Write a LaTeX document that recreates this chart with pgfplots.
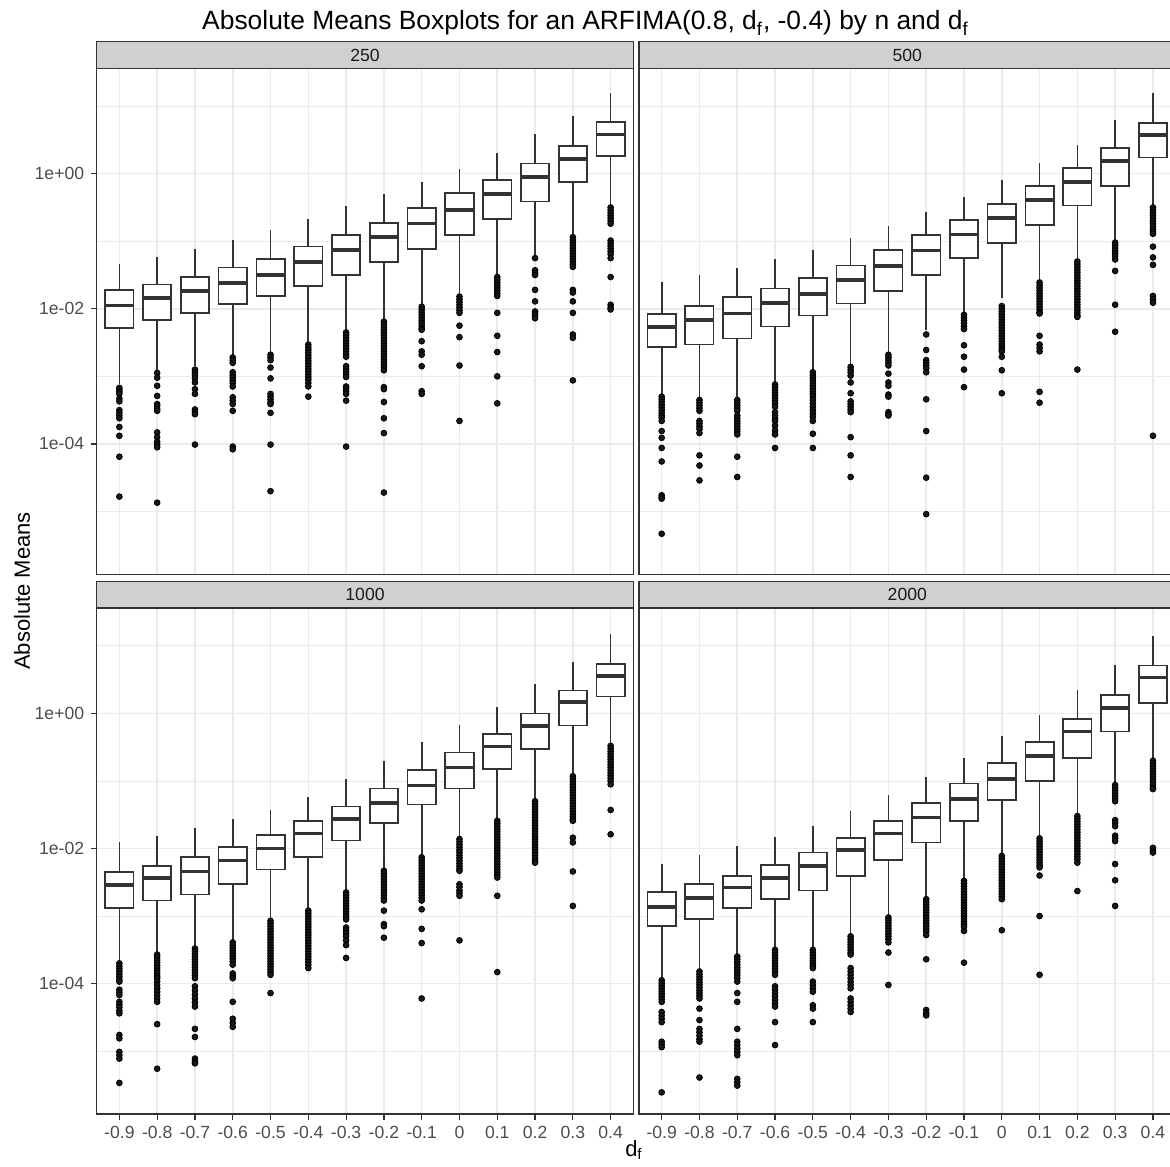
\documentclass[border=0pt]{standalone}
\usepackage{pgfplots}
\pgfplotsset{compat=1.18}
\usepackage{fontspec}
\setmainfont{Liberation Sans}
\definecolor{grey10}{HTML}{1A1A1A}
\definecolor{grey20}{HTML}{333333}
\definecolor{grey30}{HTML}{4D4D4D}
\definecolor{grey92}{HTML}{EBEBEB}
\definecolor{stripfill}{HTML}{D0D0D0}

% box: position, lower whisker, Q1, median, Q3, upper whisker (log10 of absolute mean)
\newcommand{\bx}[6]{%
  \pgfmathsetmacro{\xl}{#1-0.375}\pgfmathsetmacro{\xr}{#1+0.375}%
  \addplot[draw=grey20, line width=0.85pt] coordinates {(#1,#2) (#1,#3)};
  \addplot[draw=grey20, line width=0.85pt] coordinates {(#1,#5) (#1,#6)};
  \addplot[draw=grey20, line width=0.85pt, fill=white] coordinates {(\xl,#3) (\xr,#3) (\xr,#5) (\xl,#5)} -- cycle;
  \addplot[draw=grey20, line width=1.8pt] coordinates {(\xl,#4) (\xr,#4)};
}

\pgfplotsset{
 facet/.style={
  scale only axis, width=268.3pt, height=253pt,
  xmin=0.4, xmax=14.6, ymin=-5.93, ymax=1.56,
  xtick={1,...,14}, ytick={-4,-2,0}, minor ytick={-5,-3,-1,1},
  xticklabels={-0.9,-0.8,-0.7,-0.6,-0.5,-0.4,-0.3,-0.2,-0.1,0,0.1,0.2,0.3,0.4},
  yticklabels={1e-04,1e-02,1e+00},
  grid=both,
  major grid style={draw=grey92, line width=0.8pt},
  minor grid style={draw=grey92, line width=0.4pt},
  axis line style={draw=grey20, line width=0.6pt},
  tick style={draw=grey20, line width=0.6pt},
  tick align=outside, major tick length=2.75pt, minor tick length=0pt,
  tick pos=left,
  ticklabel style={font=\fontsize{8.8}{10}\selectfont, text=grey30},
 },
 om/.style={only marks, mark=*, mark size=1.45pt, mark options={draw=none, fill=black!90}},
}

\begin{document}
\begin{tikzpicture}
\fill[white] (0,0) rectangle (585pt,583pt);
\useasboundingbox (0,0) rectangle (585pt,583pt);

% ---------------- n = 250 ----------------
\begin{axis}[facet, name=tl, at={(48.35pt,295.85pt)}, anchor=south west, xmajorticks=false]
\addplot[om] coordinates {
(1,-3.17)(1,-3.20)(1,-3.23)(1,-3.26)(1,-3.33)(1,-3.37)(1,-3.50)(1,-3.54)(1,-3.58)(1,-3.62)(1,-3.75)(1,-3.88)(1,-4.19)(1,-4.78)
(2,-2.95)(2,-3.02)(2,-3.14)(2,-3.29)(2,-3.41)(2,-3.44)(2,-3.48)(2,-3.51)(2,-3.83)(2,-3.90)(2,-3.97)(2,-4.01)(2,-4.05)(2,-4.87)
(3,-2.90)(3,-2.94)(3,-2.98)(3,-3.03)(3,-3.09)(3,-3.19)(3,-3.26)(3,-3.49)(3,-3.53)(3,-3.56)(3,-4.01)
(4,-2.72)(4,-2.76)(4,-2.80)(4,-2.94)(4,-2.98)(4,-3.02)(4,-3.06)(4,-3.10)(4,-3.15)(4,-3.31)(4,-3.36)(4,-3.41)(4,-3.51)(4,-4.04)(4,-4.08)
(5,-2.68)(5,-2.72)(5,-2.76)(5,-2.87)(5,-3.03)(5,-3.26)(5,-3.30)(5,-3.34)(5,-3.38)(5,-3.41)(5,-3.54)(5,-4.01)(5,-4.70)
(6,-2.53)(6,-2.57)(6,-2.61)(6,-2.65)(6,-2.69)(6,-2.73)(6,-2.77)(6,-2.81)(6,-2.85)(6,-2.89)(6,-2.93)(6,-2.97)(6,-3.01)(6,-3.05)(6,-3.10)(6,-3.15)(6,-3.30)
(7,-2.35)(7,-2.39)(7,-2.43)(7,-2.47)(7,-2.51)(7,-2.55)(7,-2.59)(7,-2.63)(7,-2.67)(7,-2.71)(7,-2.85)(7,-2.89)(7,-2.93)(7,-2.97)(7,-3.01)(7,-3.15)(7,-3.18)(7,-3.22)(7,-3.26)(7,-3.36)(7,-4.04)
(8,-2.19)(8,-2.23)(8,-2.27)(8,-2.31)(8,-2.35)(8,-2.39)(8,-2.43)(8,-2.47)(8,-2.51)(8,-2.55)(8,-2.59)(8,-2.63)(8,-2.67)(8,-2.71)(8,-2.75)(8,-2.79)(8,-2.83)(8,-2.87)(8,-2.91)(8,-3.16)(8,-3.19)(8,-3.38)(8,-3.62)(8,-3.84)(8,-4.72)
(9,-1.97)(9,-2.01)(9,-2.05)(9,-2.09)(9,-2.13)(9,-2.17)(9,-2.21)(9,-2.25)(9,-2.29)(9,-2.31)(9,-2.48)(9,-2.63)(9,-2.68)(9,-2.85)(9,-3.22)(9,-3.26)
(10,-1.82)(10,-1.86)(10,-1.90)(10,-1.94)(10,-1.98)(10,-2.02)(10,-2.06)(10,-2.25)(10,-2.42)(10,-2.84)(10,-3.66)
(11,-1.53)(11,-1.57)(11,-1.61)(11,-1.65)(11,-1.69)(11,-1.73)(11,-1.77)(11,-1.81)(11,-2.06)(11,-2.40)(11,-2.64)(11,-3.00)(11,-3.40)
(12,-1.25)(12,-1.43)(12,-1.47)(12,-1.50)(12,-1.72)(12,-1.89)(12,-2.04)(12,-2.07)(12,-2.10)(12,-2.14)
(13,-0.94)(13,-0.98)(13,-1.02)(13,-1.06)(13,-1.10)(13,-1.14)(13,-1.18)(13,-1.22)(13,-1.26)(13,-1.30)(13,-1.34)(13,-1.38)(13,-1.72)(13,-1.76)(13,-1.89)(13,-2.06)(13,-2.38)(13,-2.43)(13,-3.06)
(14,-0.50)(14,-0.54)(14,-0.58)(14,-0.62)(14,-0.66)(14,-0.70)(14,-0.74)(14,-0.99)(14,-1.03)(14,-1.07)(14,-1.11)(14,-1.15)(14,-1.19)(14,-1.25)(14,-1.53)(14,-1.94)(14,-1.98)(14,-2.01)
};
\bx{1}{-3.12}{-2.28}{-1.95}{-1.725}{-1.33}
\bx{2}{-2.90}{-2.17}{-1.84}{-1.64}{-1.23}
\bx{3}{-2.85}{-2.06}{-1.735}{-1.525}{-1.12}
\bx{4}{-2.70}{-1.93}{-1.62}{-1.39}{-0.985}
\bx{5}{-2.65}{-1.81}{-1.50}{-1.26}{-0.84}
\bx{6}{-2.50}{-1.66}{-1.31}{-1.08}{-0.67}
\bx{7}{-2.33}{-1.50}{-1.13}{-0.91}{-0.485}
\bx{8}{-2.16}{-1.31}{-0.94}{-0.725}{-0.30}
\bx{9}{-1.94}{-1.11}{-0.74}{-0.51}{-0.13}
\bx{10}{-1.79}{-0.91}{-0.54}{-0.29}{0.07}
\bx{11}{-1.50}{-0.67}{-0.30}{-0.09}{0.31}
\bx{12}{-1.23}{-0.41}{-0.05}{0.15}{0.58}
\bx{13}{-0.91}{-0.12}{0.22}{0.41}{0.86}
\bx{14}{-0.47}{0.26}{0.58}{0.77}{1.20}
\end{axis}

% ---------------- n = 500 ----------------
\begin{axis}[facet, name=tr, at={(319.5pt,295.85pt)}, anchor=south west, xmajorticks=false, ymajorticks=false]
\addplot[om] coordinates {
(1,-3.30)(1,-3.34)(1,-3.38)(1,-3.42)(1,-3.46)(1,-3.50)(1,-3.54)(1,-3.58)(1,-3.61)(1,-3.66)(1,-3.81)(1,-3.91)(1,-4.06)(1,-4.26)(1,-4.76)(1,-4.79)(1,-4.81)(1,-5.33)
(2,-3.35)(2,-3.39)(2,-3.43)(2,-3.47)(2,-3.51)(2,-3.66)(2,-3.70)(2,-3.74)(2,-3.78)(2,-3.84)(2,-4.17)(2,-4.32)(2,-4.54)
(3,-3.35)(3,-3.39)(3,-3.43)(3,-3.47)(3,-3.51)(3,-3.58)(3,-3.62)(3,-3.66)(3,-3.70)(3,-3.74)(3,-3.78)(3,-3.82)(3,-3.86)(3,-4.19)(3,-4.49)
(4,-3.12)(4,-3.16)(4,-3.20)(4,-3.24)(4,-3.28)(4,-3.32)(4,-3.36)(4,-3.40)(4,-3.45)(4,-3.53)(4,-3.58)(4,-3.62)(4,-3.66)(4,-3.73)(4,-3.80)(4,-3.86)(4,-4.06)
(5,-2.94)(5,-2.98)(5,-3.02)(5,-3.06)(5,-3.10)(5,-3.14)(5,-3.18)(5,-3.22)(5,-3.26)(5,-3.30)(5,-3.35)(5,-3.40)(5,-3.45)(5,-3.50)(5,-3.55)(5,-3.60)(5,-3.66)(5,-3.85)(5,-4.06)
(6,-2.86)(6,-2.90)(6,-2.94)(6,-2.99)(6,-3.09)(6,-3.25)(6,-3.37)(6,-3.41)(6,-3.45)(6,-3.49)(6,-3.53)(6,-3.90)(6,-4.17)(6,-4.49)
(7,-2.68)(7,-2.72)(7,-2.76)(7,-2.80)(7,-2.84)(7,-2.96)(7,-3.09)(7,-3.14)(7,-3.27)(7,-3.30)(7,-3.53)(7,-3.56)(7,-3.58)
(8,-2.38)(8,-2.61)(8,-2.76)(8,-2.80)(8,-2.84)(8,-2.88)(8,-2.94)(8,-3.34)(8,-3.81)(8,-4.50)(8,-5.04)
(9,-2.09)(9,-2.13)(9,-2.17)(9,-2.21)(9,-2.26)(9,-2.30)(9,-2.54)(9,-2.71)(9,-2.90)(9,-3.16)
(10,-1.96)(10,-2.00)(10,-2.04)(10,-2.08)(10,-2.12)(10,-2.16)(10,-2.20)(10,-2.24)(10,-2.28)(10,-2.32)(10,-2.36)(10,-2.40)(10,-2.44)(10,-2.48)(10,-2.52)(10,-2.56)(10,-2.60)(10,-2.63)(10,-2.71)(10,-2.91)(10,-3.25)
(11,-1.61)(11,-1.65)(11,-1.69)(11,-1.73)(11,-1.77)(11,-1.81)(11,-1.85)(11,-1.89)(11,-1.93)(11,-1.97)(11,-2.01)(11,-2.05)(11,-2.07)(11,-2.40)(11,-2.53)(11,-2.58)(11,-2.63)(11,-3.23)(11,-3.39)
(12,-1.30)(12,-1.34)(12,-1.38)(12,-1.42)(12,-1.46)(12,-1.50)(12,-1.54)(12,-1.58)(12,-1.62)(12,-1.66)(12,-1.70)(12,-1.74)(12,-1.78)(12,-1.82)(12,-1.86)(12,-1.90)(12,-1.94)(12,-1.98)(12,-2.02)(12,-2.06)(12,-2.10)(12,-2.12)(12,-2.90)
(13,-1.02)(13,-1.06)(13,-1.10)(13,-1.14)(13,-1.18)(13,-1.22)(13,-1.27)(13,-1.44)(13,-1.94)(13,-2.34)
(14,-0.50)(14,-0.54)(14,-0.58)(14,-0.62)(14,-0.66)(14,-0.70)(14,-0.74)(14,-0.78)(14,-0.82)(14,-0.86)(14,-0.89)(14,-1.08)(14,-1.24)(14,-1.35)(14,-1.81)(14,-1.86)(14,-1.91)(14,-3.88)
};
\bx{1}{-3.27}{-2.57}{-2.27}{-2.08}{-1.605}
\bx{2}{-3.32}{-2.53}{-2.17}{-1.96}{-1.50}
\bx{3}{-3.32}{-2.44}{-2.07}{-1.83}{-1.40}
\bx{4}{-3.09}{-2.26}{-1.91}{-1.70}{-1.26}
\bx{5}{-2.91}{-2.10}{-1.78}{-1.54}{-1.13}
\bx{6}{-2.84}{-1.92}{-1.57}{-1.36}{-0.95}
\bx{7}{-2.66}{-1.74}{-1.37}{-1.13}{-0.77}
\bx{8}{-2.32}{-1.50}{-1.14}{-0.91}{-0.57}
\bx{9}{-2.07}{-1.25}{-0.90}{-0.69}{-0.35}
\bx{10}{-1.84}{-1.03}{-0.66}{-0.45}{-0.10}
\bx{11}{-1.58}{-0.76}{-0.39}{-0.18}{0.16}
\bx{12}{-1.27}{-0.47}{-0.12}{0.08}{0.43}
\bx{13}{-0.99}{-0.18}{0.19}{0.38}{0.79}
\bx{14}{-0.48}{0.24}{0.57}{0.75}{1.20}
\end{axis}

% ---------------- n = 1000 ----------------
\begin{axis}[facet, name=bl, at={(48.35pt,26pt)}, anchor=south west]
\addplot[om] coordinates {
(1,-3.70)(1,-3.74)(1,-3.78)(1,-3.82)(1,-3.86)(1,-3.90)(1,-3.94)(1,-3.97)(1,-4.09)(1,-4.13)(1,-4.17)(1,-4.27)(1,-4.31)(1,-4.35)(1,-4.40)(1,-4.44)(1,-4.76)(1,-4.81)(1,-5.01)(1,-5.06)(1,-5.11)(1,-5.47)
(2,-3.57)(2,-3.61)(2,-3.65)(2,-3.69)(2,-3.73)(2,-3.77)(2,-3.81)(2,-3.85)(2,-3.89)(2,-3.92)(2,-3.97)(2,-4.02)(2,-4.07)(2,-4.12)(2,-4.17)(2,-4.22)(2,-4.27)(2,-4.60)(2,-5.26)
(3,-3.48)(3,-3.52)(3,-3.56)(3,-3.60)(3,-3.64)(3,-3.68)(3,-3.72)(3,-3.76)(3,-3.80)(3,-3.84)(3,-3.88)(3,-3.92)(3,-4.04)(3,-4.10)(3,-4.16)(3,-4.22)(3,-4.28)(3,-4.34)(3,-4.67)(3,-4.79)(3,-5.11)(3,-5.15)(3,-5.18)
(4,-3.39)(4,-3.43)(4,-3.47)(4,-3.51)(4,-3.55)(4,-3.59)(4,-3.63)(4,-3.67)(4,-3.72)(4,-3.85)(4,-3.89)(4,-3.92)(4,-4.27)(4,-4.52)(4,-4.58)(4,-4.64)
(5,-3.07)(5,-3.11)(5,-3.15)(5,-3.19)(5,-3.23)(5,-3.27)(5,-3.31)(5,-3.35)(5,-3.39)(5,-3.43)(5,-3.47)(5,-3.51)(5,-3.55)(5,-3.59)(5,-3.63)(5,-3.67)(5,-3.71)(5,-3.75)(5,-3.79)(5,-3.83)(5,-3.87)(5,-4.14)
(6,-2.92)(6,-2.96)(6,-3.00)(6,-3.04)(6,-3.08)(6,-3.12)(6,-3.16)(6,-3.20)(6,-3.24)(6,-3.28)(6,-3.32)(6,-3.36)(6,-3.40)(6,-3.44)(6,-3.48)(6,-3.52)(6,-3.56)(6,-3.60)(6,-3.64)(6,-3.68)(6,-3.72)(6,-3.77)
(7,-2.65)(7,-2.69)(7,-2.73)(7,-2.77)(7,-2.81)(7,-2.85)(7,-2.89)(7,-2.93)(7,-2.97)(7,-3.01)(7,-3.05)(7,-3.17)(7,-3.21)(7,-3.25)(7,-3.30)(7,-3.36)(7,-3.43)(7,-3.62)
(8,-2.33)(8,-2.37)(8,-2.41)(8,-2.45)(8,-2.49)(8,-2.53)(8,-2.57)(8,-2.61)(8,-2.65)(8,-2.69)(8,-2.73)(8,-2.77)(8,-2.92)(8,-3.12)(8,-3.15)(8,-3.32)
(9,-2.13)(9,-2.17)(9,-2.21)(9,-2.25)(9,-2.29)(9,-2.33)(9,-2.37)(9,-2.41)(9,-2.45)(9,-2.49)(9,-2.53)(9,-2.57)(9,-2.61)(9,-2.65)(9,-2.69)(9,-2.73)(9,-2.77)(9,-2.90)(9,-3.19)(9,-3.40)(9,-4.22)
(10,-1.86)(10,-1.90)(10,-1.94)(10,-1.98)(10,-2.02)(10,-2.06)(10,-2.10)(10,-2.14)(10,-2.18)(10,-2.22)(10,-2.26)(10,-2.30)(10,-2.33)(10,-2.53)(10,-2.57)(10,-2.62)(10,-2.66)(10,-2.70)(10,-3.36)
(11,-1.59)(11,-1.63)(11,-1.67)(11,-1.71)(11,-1.75)(11,-1.79)(11,-1.83)(11,-1.87)(11,-1.91)(11,-1.95)(11,-1.99)(11,-2.03)(11,-2.07)(11,-2.11)(11,-2.15)(11,-2.19)(11,-2.23)(11,-2.27)(11,-2.31)(11,-2.35)(11,-2.39)(11,-2.43)(11,-2.70)(11,-3.83)
(12,-1.30)(12,-1.34)(12,-1.38)(12,-1.42)(12,-1.46)(12,-1.50)(12,-1.54)(12,-1.58)(12,-1.62)(12,-1.66)(12,-1.70)(12,-1.74)(12,-1.78)(12,-1.82)(12,-1.86)(12,-1.90)(12,-1.94)(12,-1.98)(12,-2.02)(12,-2.06)(12,-2.10)(12,-2.14)(12,-2.18)(12,-2.21)
(13,-0.93)(13,-0.97)(13,-1.01)(13,-1.05)(13,-1.09)(13,-1.13)(13,-1.17)(13,-1.21)(13,-1.25)(13,-1.29)(13,-1.33)(13,-1.37)(13,-1.41)(13,-1.45)(13,-1.49)(13,-1.53)(13,-1.57)(13,-1.59)(13,-1.84)(13,-1.91)(13,-2.34)(13,-2.85)
(14,-0.48)(14,-0.52)(14,-0.56)(14,-0.60)(14,-0.64)(14,-0.68)(14,-0.72)(14,-0.76)(14,-0.80)(14,-0.84)(14,-0.88)(14,-0.92)(14,-0.96)(14,-1.00)(14,-1.05)(14,-1.43)(14,-1.79)
};
\bx{1}{-3.68}{-2.88}{-2.54}{-2.35}{-1.90}
\bx{2}{-3.56}{-2.77}{-2.44}{-2.26}{-1.81}
\bx{3}{-3.46}{-2.68}{-2.34}{-2.13}{-1.70}
\bx{4}{-3.36}{-2.53}{-2.18}{-1.98}{-1.57}
\bx{5}{-3.04}{-2.31}{-2.00}{-1.80}{-1.43}
\bx{6}{-2.90}{-2.13}{-1.78}{-1.59}{-1.24}
\bx{7}{-2.63}{-1.88}{-1.56}{-1.38}{-0.97}
\bx{8}{-2.31}{-1.62}{-1.33}{-1.11}{-0.70}
\bx{9}{-2.12}{-1.35}{-1.07}{-0.84}{-0.43}
\bx{10}{-1.84}{-1.11}{-0.80}{-0.58}{-0.17}
\bx{11}{-1.57}{-0.82}{-0.49}{-0.31}{0.10}
\bx{12}{-1.27}{-0.53}{-0.19}{0.00}{0.43}
\bx{13}{-0.90}{-0.18}{0.17}{0.34}{0.76}
\bx{14}{-0.46}{0.25}{0.55}{0.73}{1.17}
\end{axis}

% ---------------- n = 2000 ----------------
\begin{axis}[facet, name=br, at={(319.5pt,26pt)}, anchor=south west, ymajorticks=false]
\addplot[om] coordinates {
(1,-3.95)(1,-3.99)(1,-4.03)(1,-4.07)(1,-4.11)(1,-4.15)(1,-4.19)(1,-4.23)(1,-4.27)(1,-4.42)(1,-4.47)(1,-4.52)(1,-4.57)(1,-4.86)(1,-4.90)(1,-4.94)(1,-5.61)
(2,-3.82)(2,-3.86)(2,-3.90)(2,-3.94)(2,-3.98)(2,-4.02)(2,-4.06)(2,-4.10)(2,-4.14)(2,-4.18)(2,-4.22)(2,-4.37)(2,-4.54)(2,-4.67)(2,-4.72)(2,-4.77)(2,-4.82)(2,-4.86)(2,-5.39)
(3,-3.60)(3,-3.64)(3,-3.68)(3,-3.72)(3,-3.76)(3,-3.80)(3,-3.84)(3,-3.88)(3,-3.92)(3,-3.97)(3,-4.14)(3,-4.27)(3,-4.67)(3,-4.86)(3,-4.91)(3,-4.96)(3,-5.01)(3,-5.06)(3,-5.41)(3,-5.46)(3,-5.51)
(4,-3.50)(4,-3.54)(4,-3.58)(4,-3.62)(4,-3.66)(4,-3.70)(4,-3.74)(4,-3.78)(4,-3.82)(4,-3.87)(4,-4.04)(4,-4.09)(4,-4.14)(4,-4.19)(4,-4.24)(4,-4.29)(4,-4.34)(4,-4.57)(4,-4.91)
(5,-3.50)(5,-3.54)(5,-3.58)(5,-3.62)(5,-3.66)(5,-3.70)(5,-3.74)(5,-3.77)(5,-3.97)(5,-4.02)(5,-4.07)(5,-4.12)(5,-4.32)(5,-4.37)(5,-4.57)
(6,-3.30)(6,-3.34)(6,-3.38)(6,-3.42)(6,-3.46)(6,-3.50)(6,-3.54)(6,-3.57)(6,-3.77)(6,-3.82)(6,-3.87)(6,-3.92)(6,-3.97)(6,-4.02)(6,-4.07)(6,-4.22)(6,-4.27)(6,-4.32)(6,-4.37)(6,-4.42)
(7,-3.02)(7,-3.06)(7,-3.10)(7,-3.14)(7,-3.18)(7,-3.22)(7,-3.26)(7,-3.30)(7,-3.34)(7,-3.39)(7,-3.54)(7,-4.02)
(8,-2.75)(8,-2.79)(8,-2.83)(8,-2.87)(8,-2.91)(8,-2.95)(8,-2.99)(8,-3.03)(8,-3.07)(8,-3.11)(8,-3.15)(8,-3.19)(8,-3.23)(8,-3.28)(8,-3.64)(8,-4.39)(8,-4.44)(8,-4.47)
(9,-2.48)(9,-2.52)(9,-2.56)(9,-2.60)(9,-2.64)(9,-2.68)(9,-2.72)(9,-2.76)(9,-2.80)(9,-2.84)(9,-2.88)(9,-2.92)(9,-2.96)(9,-3.00)(9,-3.04)(9,-3.08)(9,-3.12)(9,-3.16)(9,-3.22)(9,-3.69)
(10,-2.11)(10,-2.15)(10,-2.19)(10,-2.23)(10,-2.27)(10,-2.31)(10,-2.35)(10,-2.39)(10,-2.43)(10,-2.47)(10,-2.51)(10,-2.55)(10,-2.59)(10,-2.63)(10,-2.67)(10,-2.71)(10,-2.75)(10,-3.21)
(11,-1.85)(11,-1.89)(11,-1.93)(11,-1.97)(11,-2.01)(11,-2.05)(11,-2.09)(11,-2.13)(11,-2.17)(11,-2.21)(11,-2.25)(11,-2.28)(11,-2.40)(11,-3.00)(11,-3.87)
(12,-1.52)(12,-1.56)(12,-1.60)(12,-1.64)(12,-1.68)(12,-1.72)(12,-1.76)(12,-1.80)(12,-1.84)(12,-1.88)(12,-1.92)(12,-1.96)(12,-2.00)(12,-2.04)(12,-2.08)(12,-2.12)(12,-2.16)(12,-2.21)(12,-2.63)
(13,-1.06)(13,-1.10)(13,-1.14)(13,-1.18)(13,-1.22)(13,-1.26)(13,-1.30)(13,-1.58)(13,-1.62)(13,-1.67)(13,-1.81)(13,-1.85)(13,-1.89)(13,-2.23)(13,-2.47)(13,-2.85)
(14,-0.70)(14,-0.74)(14,-0.78)(14,-0.82)(14,-0.86)(14,-0.90)(14,-0.94)(14,-0.98)(14,-1.02)(14,-1.06)(14,-1.10)(14,-1.12)(14,-1.99)(14,-2.03)(14,-2.06)
};
\bx{1}{-3.92}{-3.15}{-2.87}{-2.64}{-2.23}
\bx{2}{-3.80}{-3.04}{-2.73}{-2.53}{-2.09}
\bx{3}{-3.57}{-2.88}{-2.58}{-2.41}{-1.97}
\bx{4}{-3.48}{-2.75}{-2.44}{-2.24}{-1.83}
\bx{5}{-3.46}{-2.62}{-2.26}{-2.06}{-1.66}
\bx{6}{-3.27}{-2.41}{-2.02}{-1.84}{-1.44}
\bx{7}{-3.00}{-2.17}{-1.78}{-1.59}{-1.21}
\bx{8}{-2.72}{-1.91}{-1.54}{-1.33}{-0.94}
\bx{9}{-2.45}{-1.59}{-1.27}{-1.04}{-0.66}
\bx{10}{-2.08}{-1.28}{-0.97}{-0.73}{-0.34}
\bx{11}{-1.83}{-1.00}{-0.63}{-0.42}{-0.03}
\bx{12}{-1.49}{-0.66}{-0.27}{-0.08}{0.34}
\bx{13}{-1.05}{-0.27}{0.08}{0.27}{0.71}
\bx{14}{-0.66}{0.15}{0.53}{0.71}{1.14}
\end{axis}

% strips
\foreach \ax/\lab in {tl/250, tr/500, bl/1000, br/2000}{
  \draw[fill=stripfill, draw=grey20, line width=0.6pt] (\ax.north west) rectangle ([yshift=13.3pt]\ax.north east);
  \node[font=\fontsize{8.8}{10}\selectfont, text=grey10] at ([yshift=6.65pt]\ax.north) {\lab};
}

% titles
\node[anchor=base, font=\fontsize{13.2}{15}\selectfont] at (292.75pt,568pt)
  {Absolute Means Boxplots for an ARFIMA(0.8, d\textsubscript{f}, -0.4) by n and d\textsubscript{f}};
\node[rotate=90, font=\fontsize{11}{13}\selectfont] at (11pt,287.5pt) {Absolute Means};
\node[anchor=base, font=\fontsize{11}{13}\selectfont] at (317pt,5pt) {d\textsubscript{f}};
\end{tikzpicture}
\end{document}
